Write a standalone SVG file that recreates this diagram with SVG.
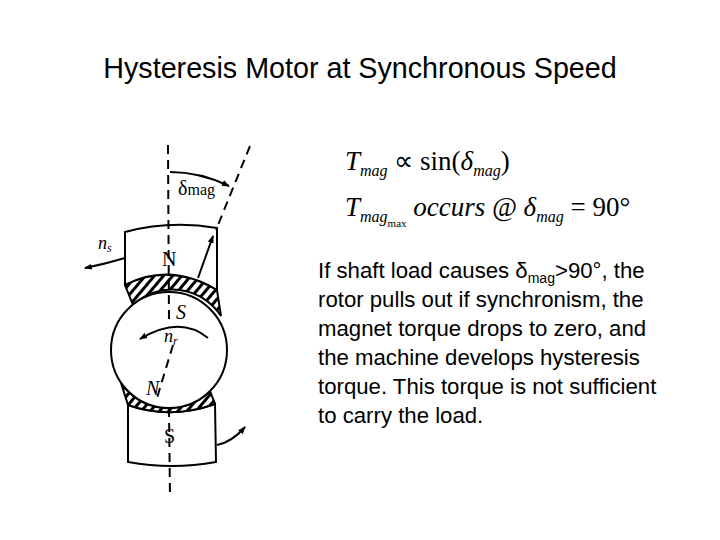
<svg xmlns="http://www.w3.org/2000/svg" width="720" height="540" viewBox="0 0 720 540">
<defs>
<pattern id="h" width="7" height="7" patternUnits="userSpaceOnUse" patternTransform="rotate(40)"><rect width="7" height="7" fill="#fff"/><rect width="3" height="7" fill="#000"/></pattern>
<marker id="a" markerWidth="8" markerHeight="8" refX="7" refY="4" orient="auto" markerUnits="userSpaceOnUse"><path d="M0,1 L8,4 L0,7 Z" fill="#000"/></marker>
</defs>
<style>
.s{fill:none;stroke:#000;stroke-width:2}
.d{fill:none;stroke:#000;stroke-width:2;stroke-dasharray:9,6}
.t{font-family:"Liberation Sans",Arial,sans-serif;font-size:22.2px;fill:#000}
.m{font-family:"Liberation Serif","Times New Roman",serif;fill:#000}
</style>
<rect width="720" height="540" fill="#fff"/>
<text x="360" y="78" text-anchor="middle" style="font-family:'Liberation Sans',Arial,sans-serif;font-size:28.7px">Hysteresis Motor at Synchronous Speed</text>
<g id="stator-top">
<path d="M125,232 Q170,220 217,228 L217,290 Q170,266 125,285 Z" fill="#fff" stroke="#000" stroke-width="2"/>
<text x="162" y="266" class="m" font-size="20">N</text>
</g>
<g id="stator-bottom">
<path d="M128,405 Q170,420 215,404 L216,462 Q172,470 128,462 Z" fill="#fff" stroke="#000" stroke-width="2"/>
<text x="164" y="443" class="m" font-size="20">S</text>
</g>
<g id="rotor">
<path d="M125,285 Q170,262 217,290 L221,316 A58,58 0 0 0 133,305 Z" fill="url(#h)" stroke="#000" stroke-width="2"/>
<path d="M121,383 A58,58 0 0 0 210,391 L215,404 Q170,420 128,405 Z" fill="url(#h)" stroke="#000" stroke-width="2"/>
<circle cx="169" cy="350" r="58" fill="#fff" stroke="#000" stroke-width="2"/>
</g>
<g id="connectors">
<line x1="168" y1="145" x2="169" y2="322" class="d"/>
<line x1="169" y1="408" x2="170" y2="498" class="d"/>
<line x1="173" y1="345" x2="157" y2="398" class="d"/>
<line x1="250" y1="146" x2="216" y2="230" class="d"/>
<line x1="198" y1="278" x2="213" y2="236" class="s" marker-end="url(#a)"/>
<path d="M170,172 Q200,172 229,186" class="s" marker-end="url(#a)"/>
<path d="M125,258 Q105,264 85,268" class="s" marker-end="url(#a)"/>
<path d="M208,338 Q180,315 140,339" class="s" marker-end="url(#a)"/>
<path d="M217,445 Q232,442 245,427" class="s" marker-end="url(#a)"/>
</g>
<g id="labels">
<text x="178" y="195" class="m" font-size="20">δ<tspan font-size="16">mag</tspan></text>
<text x="98" y="249" class="m" font-size="18" font-style="italic">n<tspan font-size="12" dy="3">s</tspan></text>
<text x="176" y="319" class="m" font-size="20" font-style="italic">S</text>
<text x="164" y="342" class="m" font-size="18" font-style="italic">n<tspan font-size="12" dy="3">r</tspan></text>
<text x="146" y="395" class="m" font-size="20" font-style="italic">N</text>
</g>
<g id="formula" class="m" font-size="27">
<text x="345" y="170"><tspan font-style="italic">T</tspan><tspan font-size="16" font-style="italic" dy="6">mag</tspan><tspan dy="-6"> ∝ sin(</tspan><tspan font-style="italic">δ</tspan><tspan font-size="16" font-style="italic" dy="6">mag</tspan><tspan dy="-6">)</tspan></text>
<text x="345" y="216"><tspan font-style="italic">T</tspan><tspan font-size="16" font-style="italic" dy="6">mag</tspan><tspan font-size="11" dy="5">max</tspan><tspan font-style="italic" dy="-11"> occurs @ δ</tspan><tspan font-size="16" font-style="italic" dy="6">mag</tspan><tspan dy="-6"> = 90°</tspan></text>
</g>
<g id="body" class="t">
<text x="318" y="278">If shaft load causes δ<tspan font-size="14" dy="5">mag</tspan><tspan dy="-5">&gt;90°, the</tspan></text>
<text x="318" y="307">rotor pulls out if synchronism, the</text>
<text x="318" y="336">magnet torque drops to zero, and</text>
<text x="318" y="365">the machine develops hysteresis</text>
<text x="318" y="394">torque.  This torque is not sufficient</text>
<text x="318" y="423">to carry the load.</text>
</g>
</svg>
